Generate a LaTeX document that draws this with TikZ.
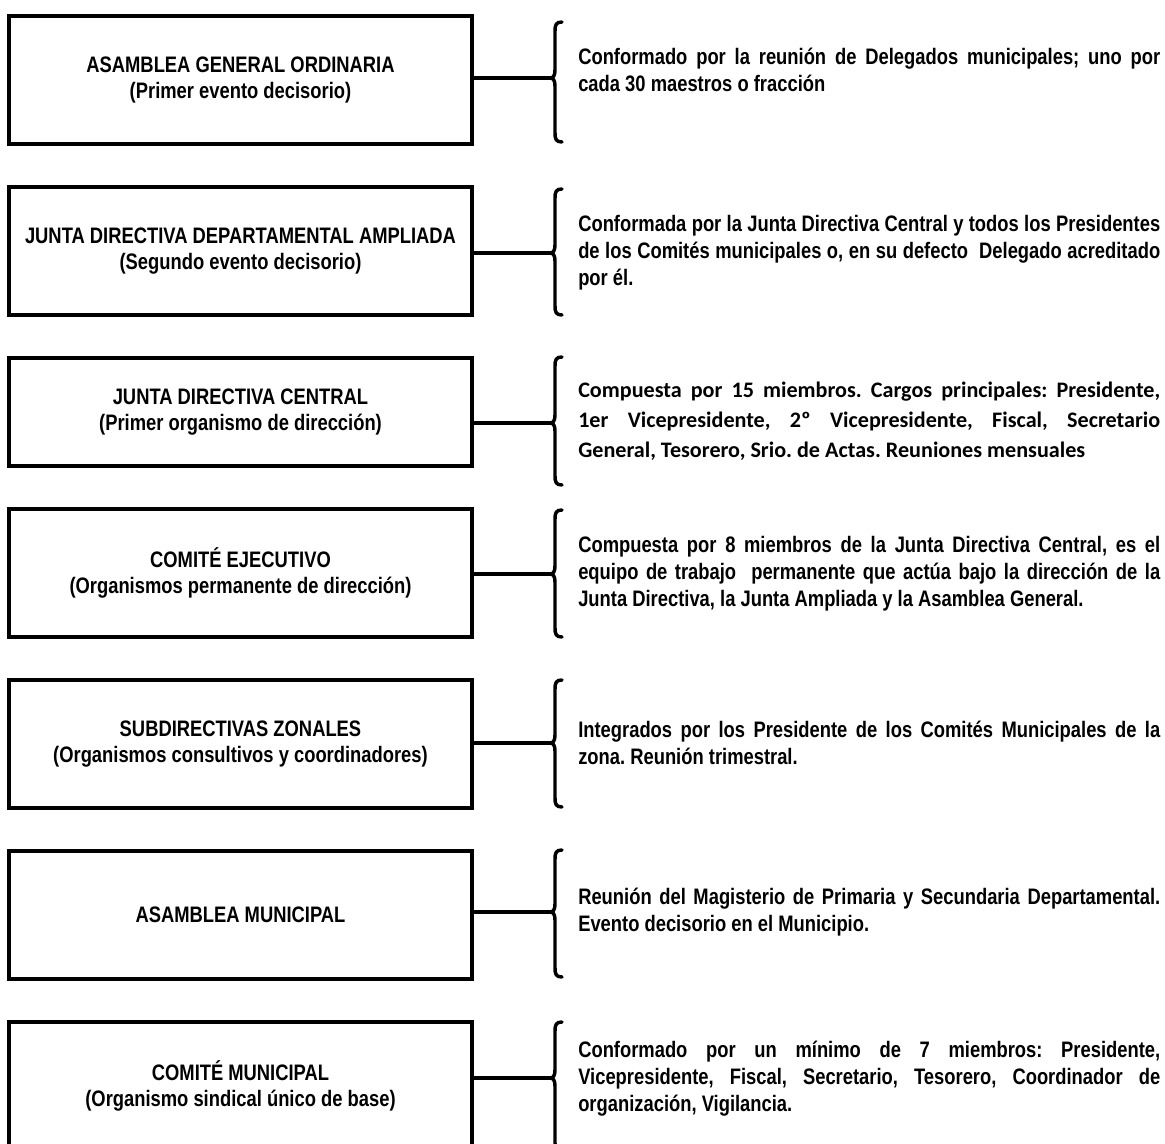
\documentclass[tikz,border=0pt]{standalone}
\usepackage{fontspec}
\newfontfamily\narrowfont{Liberation Sans}[FakeStretch=0.82]
\newfontfamily\califont{Carlito}
\usetikzlibrary{positioning}
\frenchspacing

% curly brace: name of tip, top, tip, bottom
\newcommand{\llave}[4]{%
	\coordinate (#1) at (550,#3);
	\draw[llave line] (562,#2) .. controls (556,#2) and (555,#2+3) .. (555,#2+9)
		-- (555,#3-8) .. controls (555,#3-2) and (553,#3) .. (#1)
		.. controls (553,#3) and (555,#3+2) .. (555,#3+8)
		-- (555,#4-9) .. controls (555,#4-3) and (556,#4) .. (562,#4);
}

\begin{document}
\begin{tikzpicture}[x=0.75pt,y=-0.75pt,node distance=29.25pt,
	caja/.style={draw, line width=3pt, minimum width=347.25pt, minimum height=96pt, inner sep=0pt, align=center, font=\narrowfont\bfseries\fontsize{16.8}{20}\selectfont},
	texto/.style={anchor=west, text width=436.5pt, inner sep=0pt, align=justify, font=\narrowfont\bfseries\fontsize{16.8}{20.25}\selectfont},
	enlace/.style={line width=3pt},
	llave line/.style={line width=2.6pt, line cap=round}]
	\useasboundingbox (0,0) rectangle (1165,1144);
	\clip (0,0) rectangle (1165,1144);

	\node [caja] (b1) at (240.5,80) {ASAMBLEA GENERAL ORDINARIA\\(Primer evento decisorio)};
	\node [caja, below=of b1] (b2) {JUNTA DIRECTIVA DEPARTAMENTAL AMPLIADA\\(Segundo evento decisorio)};
	\node [caja, below=of b2, minimum height=81pt] (b3) {JUNTA DIRECTIVA CENTRAL\\(Primer organismo de dirección)};
	\node [caja, below=of b3] (b4) {COMITÉ EJECUTIVO\\(Organismos permanente de dirección)};
	\node [caja, below=of b4] (b5) {SUBDIRECTIVAS ZONALES\\(Organismos consultivos y coordinadores)};
	\node [caja, below=of b5] (b6) {ASAMBLEA MUNICIPAL};
	\node [caja, below=of b6] (b7) {COMITÉ MUNICIPAL\\(Organismo sindical único de base)};

	\llave{t1}{22}{78}{142}
	\llave{t2}{189}{253}{315}
	\llave{t3}{357}{423}{485}
	\llave{t4}{510}{574}{637}
	\llave{t5}{680}{743}{807}
	\llave{t6}{850}{912}{977}
	\llave{t7}{1022}{1078}{1152}

	\foreach \i in {1,...,7}
		\draw[enlace] (b\i.east |- t\i) -- (t\i);

	\node [texto] (d1) at (578,70) {Conformado por la reunión de Delegados municipales; uno por\linebreak cada 30 maestros o fracción};
	\node [texto] (d2) at (578,253) {Conformada por la Junta Directiva Central y todos los Presidentes\linebreak de los Comités municipales o, en su defecto\ \ Delegado acreditado\linebreak por él.};
	\node [texto, font=\califont\bfseries\fontsize{16.6}{22.5}\selectfont] (d3) at (578,421) {Compuesta por 15 miembros. Cargos principales: Presidente,\linebreak 1er Vicepresidente, 2º Vicepresidente, Fiscal, Secretario\linebreak General, Tesorero, Srio. de Actas. Reuniones mensuales};
	\node [texto] (d4) at (578,574) {Compuesta por 8 miembros de la Junta Directiva Central, es el\linebreak equipo de trabajo\ \ permanente que actúa bajo la dirección de la\linebreak Junta Directiva, la Junta Ampliada y la Asamblea General.};
	\node [texto] (d5) at (578,743) {Integrados por los Presidente de los Comités Municipales de la\linebreak zona. Reunión trimestral.};
	\node [texto] (d6) at (578,912) {Reunión del Magisterio de Primaria y Secundaria Departamental.\linebreak Evento decisorio en el Municipio.};
	\node [texto] (d7) at (578,1079) {Conformado por un mínimo de 7 miembros: Presidente,\linebreak Vicepresidente, Fiscal, Secretario, Tesorero, Coordinador de\linebreak organización, Vigilancia.};
\end{tikzpicture}
\end{document}
